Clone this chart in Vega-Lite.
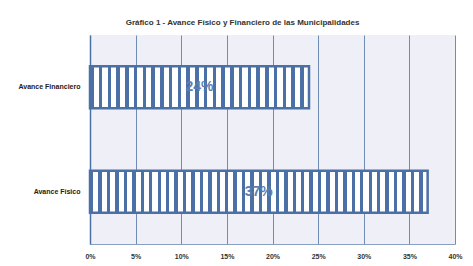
{
"$schema":"https://vega.github.io/schema/vega-lite/v6.json",
"autosize":"none",
"padding":{"left":90,"top":35,"right":18,"bottom":22},
"width":365,"height":209,
"background":"#ffffff",
"config":{"font":"Liberation Sans","view":{"fill":"#efeff8","stroke":null}},
"title":{"text":"Gráfico 1 - Avance Físico y Financiero de las Municipalidades","fontSize":8,"fontWeight":"bold","color":"#333333","anchor":"middle","dx":-30,"offset":8},
"data":{"values":[{"avance":"Avance Financiero","valor":0.24},{"avance":"Avance Físico","valor":0.37}]},
"encoding":{
 "y":{"field":"avance","type":"nominal","sort":null,"title":null,"scale":{"paddingInner":0.6,"paddingOuter":0.3},
  "axis":{"ticks":false,"labelPadding":10,"labelFontSize":7,"labelFontWeight":"bold","labelColor":"#222222","domainColor":"#4a70a6","domainWidth":1.5}}
},
"layer":[
 {"encoding":{"x":{"field":"valor","type":"quantitative","scale":{"domain":[0,0.4]},
   "axis":{"title":null,"format":".0%","values":[0,0.05,0.1,0.15,0.2,0.25,0.3,0.35,0.4],"ticks":false,"labelPadding":8,"labelFontSize":7,"labelFontWeight":"bold","labelColor":"#333333","labelFlush":false,"labelOverlap":false,"domainColor":"#8aa0c0","grid":true,"gridColor":"#6f8cb5","gridWidth":1}}},
  "layer":[
 {"transform":[{"filter":"datum.avance === 'Avance Financiero'"}],
  "mark":{"type":"bar","stroke":"#4a70a6","strokeWidth":2.5,"fill":{"gradient":"linear","x1":0,"y1":0,"x2":1,"y2":0,"stops":[
{"offset":0,"color":"#4a70a6"},{"offset":0.016,"color":"#4a70a6"},{"offset":0.016,"color":"#ffffff"},{"offset":0.04,"color":"#ffffff"},
{"offset":0.04,"color":"#4a70a6"},{"offset":0.056,"color":"#4a70a6"},{"offset":0.056,"color":"#ffffff"},{"offset":0.08,"color":"#ffffff"},
{"offset":0.08,"color":"#4a70a6"},{"offset":0.096,"color":"#4a70a6"},{"offset":0.096,"color":"#ffffff"},{"offset":0.12,"color":"#ffffff"},
{"offset":0.12,"color":"#4a70a6"},{"offset":0.136,"color":"#4a70a6"},{"offset":0.136,"color":"#ffffff"},{"offset":0.16,"color":"#ffffff"},
{"offset":0.16,"color":"#4a70a6"},{"offset":0.176,"color":"#4a70a6"},{"offset":0.176,"color":"#ffffff"},{"offset":0.2,"color":"#ffffff"},
{"offset":0.2,"color":"#4a70a6"},{"offset":0.216,"color":"#4a70a6"},{"offset":0.216,"color":"#ffffff"},{"offset":0.24,"color":"#ffffff"},
{"offset":0.24,"color":"#4a70a6"},{"offset":0.256,"color":"#4a70a6"},{"offset":0.256,"color":"#ffffff"},{"offset":0.28,"color":"#ffffff"},
{"offset":0.28,"color":"#4a70a6"},{"offset":0.296,"color":"#4a70a6"},{"offset":0.296,"color":"#ffffff"},{"offset":0.32,"color":"#ffffff"},
{"offset":0.32,"color":"#4a70a6"},{"offset":0.336,"color":"#4a70a6"},{"offset":0.336,"color":"#ffffff"},{"offset":0.36,"color":"#ffffff"},
{"offset":0.36,"color":"#4a70a6"},{"offset":0.376,"color":"#4a70a6"},{"offset":0.376,"color":"#ffffff"},{"offset":0.4,"color":"#ffffff"},
{"offset":0.4,"color":"#4a70a6"},{"offset":0.416,"color":"#4a70a6"},{"offset":0.416,"color":"#ffffff"},{"offset":0.44,"color":"#ffffff"},
{"offset":0.44,"color":"#4a70a6"},{"offset":0.456,"color":"#4a70a6"},{"offset":0.456,"color":"#ffffff"},{"offset":0.48,"color":"#ffffff"},
{"offset":0.48,"color":"#4a70a6"},{"offset":0.496,"color":"#4a70a6"},{"offset":0.496,"color":"#ffffff"},{"offset":0.52,"color":"#ffffff"},
{"offset":0.52,"color":"#4a70a6"},{"offset":0.536,"color":"#4a70a6"},{"offset":0.536,"color":"#ffffff"},{"offset":0.56,"color":"#ffffff"},
{"offset":0.56,"color":"#4a70a6"},{"offset":0.576,"color":"#4a70a6"},{"offset":0.576,"color":"#ffffff"},{"offset":0.6,"color":"#ffffff"},
{"offset":0.6,"color":"#4a70a6"},{"offset":0.616,"color":"#4a70a6"},{"offset":0.616,"color":"#ffffff"},{"offset":0.64,"color":"#ffffff"},
{"offset":0.64,"color":"#4a70a6"},{"offset":0.656,"color":"#4a70a6"},{"offset":0.656,"color":"#ffffff"},{"offset":0.68,"color":"#ffffff"},
{"offset":0.68,"color":"#4a70a6"},{"offset":0.696,"color":"#4a70a6"},{"offset":0.696,"color":"#ffffff"},{"offset":0.72,"color":"#ffffff"},
{"offset":0.72,"color":"#4a70a6"},{"offset":0.736,"color":"#4a70a6"},{"offset":0.736,"color":"#ffffff"},{"offset":0.76,"color":"#ffffff"},
{"offset":0.76,"color":"#4a70a6"},{"offset":0.776,"color":"#4a70a6"},{"offset":0.776,"color":"#ffffff"},{"offset":0.8,"color":"#ffffff"},
{"offset":0.8,"color":"#4a70a6"},{"offset":0.816,"color":"#4a70a6"},{"offset":0.816,"color":"#ffffff"},{"offset":0.84,"color":"#ffffff"},
{"offset":0.84,"color":"#4a70a6"},{"offset":0.856,"color":"#4a70a6"},{"offset":0.856,"color":"#ffffff"},{"offset":0.88,"color":"#ffffff"},
{"offset":0.88,"color":"#4a70a6"},{"offset":0.896,"color":"#4a70a6"},{"offset":0.896,"color":"#ffffff"},{"offset":0.92,"color":"#ffffff"},
{"offset":0.92,"color":"#4a70a6"},{"offset":0.936,"color":"#4a70a6"},{"offset":0.936,"color":"#ffffff"},{"offset":0.96,"color":"#ffffff"},
{"offset":0.96,"color":"#4a70a6"},{"offset":0.976,"color":"#4a70a6"},{"offset":0.976,"color":"#ffffff"},{"offset":1,"color":"#ffffff"}
  ]}}
 },
 {"transform":[{"filter":"datum.avance === 'Avance Físico'"}],
  "mark":{"type":"bar","stroke":"#4a70a6","strokeWidth":2.5,"fill":{"gradient":"linear","x1":0,"y1":0,"x2":1,"y2":0,"stops":[
{"offset":0,"color":"#4a70a6"},{"offset":0.01,"color":"#4a70a6"},{"offset":0.01,"color":"#ffffff"},{"offset":0.025,"color":"#ffffff"},
{"offset":0.025,"color":"#4a70a6"},{"offset":0.035,"color":"#4a70a6"},{"offset":0.035,"color":"#ffffff"},{"offset":0.05,"color":"#ffffff"},
{"offset":0.05,"color":"#4a70a6"},{"offset":0.06,"color":"#4a70a6"},{"offset":0.06,"color":"#ffffff"},{"offset":0.075,"color":"#ffffff"},
{"offset":0.075,"color":"#4a70a6"},{"offset":0.085,"color":"#4a70a6"},{"offset":0.085,"color":"#ffffff"},{"offset":0.1,"color":"#ffffff"},
{"offset":0.1,"color":"#4a70a6"},{"offset":0.11,"color":"#4a70a6"},{"offset":0.11,"color":"#ffffff"},{"offset":0.125,"color":"#ffffff"},
{"offset":0.125,"color":"#4a70a6"},{"offset":0.135,"color":"#4a70a6"},{"offset":0.135,"color":"#ffffff"},{"offset":0.15,"color":"#ffffff"},
{"offset":0.15,"color":"#4a70a6"},{"offset":0.16,"color":"#4a70a6"},{"offset":0.16,"color":"#ffffff"},{"offset":0.175,"color":"#ffffff"},
{"offset":0.175,"color":"#4a70a6"},{"offset":0.185,"color":"#4a70a6"},{"offset":0.185,"color":"#ffffff"},{"offset":0.2,"color":"#ffffff"},
{"offset":0.2,"color":"#4a70a6"},{"offset":0.21,"color":"#4a70a6"},{"offset":0.21,"color":"#ffffff"},{"offset":0.225,"color":"#ffffff"},
{"offset":0.225,"color":"#4a70a6"},{"offset":0.235,"color":"#4a70a6"},{"offset":0.235,"color":"#ffffff"},{"offset":0.25,"color":"#ffffff"},
{"offset":0.25,"color":"#4a70a6"},{"offset":0.26,"color":"#4a70a6"},{"offset":0.26,"color":"#ffffff"},{"offset":0.275,"color":"#ffffff"},
{"offset":0.275,"color":"#4a70a6"},{"offset":0.285,"color":"#4a70a6"},{"offset":0.285,"color":"#ffffff"},{"offset":0.3,"color":"#ffffff"},
{"offset":0.3,"color":"#4a70a6"},{"offset":0.31,"color":"#4a70a6"},{"offset":0.31,"color":"#ffffff"},{"offset":0.325,"color":"#ffffff"},
{"offset":0.325,"color":"#4a70a6"},{"offset":0.335,"color":"#4a70a6"},{"offset":0.335,"color":"#ffffff"},{"offset":0.35,"color":"#ffffff"},
{"offset":0.35,"color":"#4a70a6"},{"offset":0.36,"color":"#4a70a6"},{"offset":0.36,"color":"#ffffff"},{"offset":0.375,"color":"#ffffff"},
{"offset":0.375,"color":"#4a70a6"},{"offset":0.385,"color":"#4a70a6"},{"offset":0.385,"color":"#ffffff"},{"offset":0.4,"color":"#ffffff"},
{"offset":0.4,"color":"#4a70a6"},{"offset":0.41,"color":"#4a70a6"},{"offset":0.41,"color":"#ffffff"},{"offset":0.425,"color":"#ffffff"},
{"offset":0.425,"color":"#4a70a6"},{"offset":0.435,"color":"#4a70a6"},{"offset":0.435,"color":"#ffffff"},{"offset":0.45,"color":"#ffffff"},
{"offset":0.45,"color":"#4a70a6"},{"offset":0.46,"color":"#4a70a6"},{"offset":0.46,"color":"#ffffff"},{"offset":0.475,"color":"#ffffff"},
{"offset":0.475,"color":"#4a70a6"},{"offset":0.485,"color":"#4a70a6"},{"offset":0.485,"color":"#ffffff"},{"offset":0.5,"color":"#ffffff"},
{"offset":0.5,"color":"#4a70a6"},{"offset":0.51,"color":"#4a70a6"},{"offset":0.51,"color":"#ffffff"},{"offset":0.525,"color":"#ffffff"},
{"offset":0.525,"color":"#4a70a6"},{"offset":0.535,"color":"#4a70a6"},{"offset":0.535,"color":"#ffffff"},{"offset":0.55,"color":"#ffffff"},
{"offset":0.55,"color":"#4a70a6"},{"offset":0.56,"color":"#4a70a6"},{"offset":0.56,"color":"#ffffff"},{"offset":0.575,"color":"#ffffff"},
{"offset":0.575,"color":"#4a70a6"},{"offset":0.585,"color":"#4a70a6"},{"offset":0.585,"color":"#ffffff"},{"offset":0.6,"color":"#ffffff"},
{"offset":0.6,"color":"#4a70a6"},{"offset":0.61,"color":"#4a70a6"},{"offset":0.61,"color":"#ffffff"},{"offset":0.625,"color":"#ffffff"},
{"offset":0.625,"color":"#4a70a6"},{"offset":0.635,"color":"#4a70a6"},{"offset":0.635,"color":"#ffffff"},{"offset":0.65,"color":"#ffffff"},
{"offset":0.65,"color":"#4a70a6"},{"offset":0.66,"color":"#4a70a6"},{"offset":0.66,"color":"#ffffff"},{"offset":0.675,"color":"#ffffff"},
{"offset":0.675,"color":"#4a70a6"},{"offset":0.685,"color":"#4a70a6"},{"offset":0.685,"color":"#ffffff"},{"offset":0.7,"color":"#ffffff"},
{"offset":0.7,"color":"#4a70a6"},{"offset":0.71,"color":"#4a70a6"},{"offset":0.71,"color":"#ffffff"},{"offset":0.725,"color":"#ffffff"},
{"offset":0.725,"color":"#4a70a6"},{"offset":0.735,"color":"#4a70a6"},{"offset":0.735,"color":"#ffffff"},{"offset":0.75,"color":"#ffffff"},
{"offset":0.75,"color":"#4a70a6"},{"offset":0.76,"color":"#4a70a6"},{"offset":0.76,"color":"#ffffff"},{"offset":0.775,"color":"#ffffff"},
{"offset":0.775,"color":"#4a70a6"},{"offset":0.785,"color":"#4a70a6"},{"offset":0.785,"color":"#ffffff"},{"offset":0.8,"color":"#ffffff"},
{"offset":0.8,"color":"#4a70a6"},{"offset":0.81,"color":"#4a70a6"},{"offset":0.81,"color":"#ffffff"},{"offset":0.825,"color":"#ffffff"},
{"offset":0.825,"color":"#4a70a6"},{"offset":0.835,"color":"#4a70a6"},{"offset":0.835,"color":"#ffffff"},{"offset":0.85,"color":"#ffffff"},
{"offset":0.85,"color":"#4a70a6"},{"offset":0.86,"color":"#4a70a6"},{"offset":0.86,"color":"#ffffff"},{"offset":0.875,"color":"#ffffff"},
{"offset":0.875,"color":"#4a70a6"},{"offset":0.885,"color":"#4a70a6"},{"offset":0.885,"color":"#ffffff"},{"offset":0.9,"color":"#ffffff"},
{"offset":0.9,"color":"#4a70a6"},{"offset":0.91,"color":"#4a70a6"},{"offset":0.91,"color":"#ffffff"},{"offset":0.925,"color":"#ffffff"},
{"offset":0.925,"color":"#4a70a6"},{"offset":0.935,"color":"#4a70a6"},{"offset":0.935,"color":"#ffffff"},{"offset":0.95,"color":"#ffffff"},
{"offset":0.95,"color":"#4a70a6"},{"offset":0.96,"color":"#4a70a6"},{"offset":0.96,"color":"#ffffff"},{"offset":0.975,"color":"#ffffff"},
{"offset":0.975,"color":"#4a70a6"},{"offset":0.985,"color":"#4a70a6"},{"offset":0.985,"color":"#ffffff"},{"offset":1,"color":"#ffffff"}
  ]}}
 }
  ]
 },
 {"mark":{"type":"text","fontSize":14,"fontWeight":"bold","color":"#5b7fb0","align":"center","baseline":"middle"},
  "encoding":{
   "x":{"field":"valor","type":"quantitative","scale":{"domain":[0,0.8]},"axis":null},
   "text":{"field":"valor","type":"quantitative","format":".0%"}}
 }
],
"resolve":{"scale":{"x":"independent"},"axis":{"x":"independent"}}
}
